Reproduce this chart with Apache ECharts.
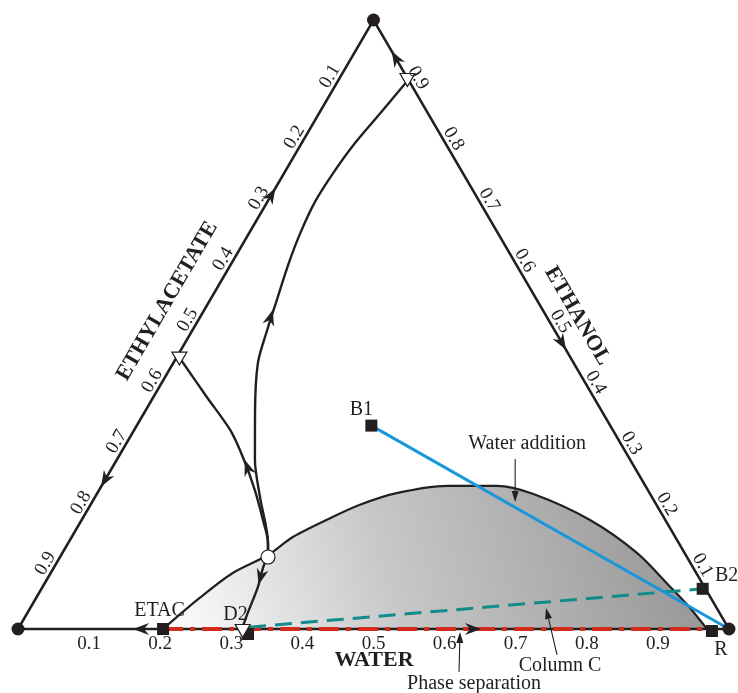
<!DOCTYPE html>
<html><head><meta charset="utf-8">
<script src="https://cdn.jsdelivr.net/npm/echarts/dist/echarts.min.js"></script>
<style>html,body{margin:0;padding:0;background:#fff}#c{width:738px;height:693px}</style>
</head><body><div id="c"></div>
<script>
// All compositions are [water, ethanol] mole fractions; ethyl acetate = 1 - water - ethanol
const tickValues = [0.1, 0.2, 0.3, 0.4, 0.5, 0.6, 0.7, 0.8, 0.9];
const tickLabels = ['0.1', '0.2', '0.3', '0.4', '0.5', '0.6', '0.7', '0.8', '0.9'];
const axisTitles = ['WATER', 'ETHANOL', 'ETHYLACETATE'];
const vertices = [[0, 0], [1, 0], [0, 1]];          // EtAc, water, EtOH
const binodal = [[0.204,0],[0.230,0.051],[0.256,0.092],[0.291,0.1215],[0.311,0.151],[0.348,0.182],
  [0.379,0.204],[0.421,0.223],[0.486,0.235],[0.556,0.235],[0.613,0.222],[0.715,0.179],[0.808,0.125],
  [0.883,0.069],[0.928,0.0345],[0.969,0]];
const boundaryUpper = [[0.2925,0.1182],[0.281,0.1412],[0.232,0.2167],[0.1945,0.2775],[0.156,0.3547],
  [0.119,0.4368],[0.105,0.491],[0.094,0.540],[0.081,0.598],[0.072,0.650],[0.067,0.701],[0.069,0.749],
  [0.075,0.798],[0.086,0.847],[0.098,0.902]];
const boundaryLeft = [[0.005,0.445],[0.075,0.381],[0.135,0.3268],[0.175,0.2824],[0.219,0.2282],
  [0.255,0.179],[0.281,0.1412],[0.2925,0.1182]];
const boundaryLower = [[0.2925,0.1182],[0.294,0.102],[0.303,0.069],[0.310,0.026],[0.315,0]];
const binaryAzeotropes = [[0.097,0.9015],[0.005,0.444],[0.316,0]];
const ternaryAzeotrope = [[0.2925,0.1182]];
const productNames = ['B1', 'B2', 'R', 'ETAC', 'D2'];
const productPoints = [[0.33,0.334],[0.93,0.066],[0.976,0],[0.204,0],[0.3235,0]];
const waterAddition = [[0.33,0.334],[1,0]];
const columnC = [[0.3235,0.003],[0.93,0.066]];
const phaseSeparation = [[0.204,0],[0.976,0]];
// flow arrows: [from, to] along edges and boundaries
const flowArrows = [
  [[0,0.69],[0,0.735]], [[0,0.27],[0,0.22]], [[0.19,0],[0.156,0]], [[0.625,0],[0.655,0]],
  [[0.08,0.92],[0.045,0.955]], [[0.51,0.49],[0.55,0.45]],
  [[0.105,0.488],[0.0938,0.5353]], [[0.2068,0.2447],[0.1736,0.2857]], [[0.294,0.102],[0.303,0.069]]
];
const annotationNames = ['Water addition', 'Column C', 'Phase separation'];
const annotationTips = [[0.595,0.2085],[0.7254,0.0345],[0.6217,0]];

// ---- styling ----
const INK = '#231f20';
const SERIF = '"Liberation Serif", "Times New Roman", serif';
const productLabelOffsets = [[-10,-16],[24,-13.5],[9,21],[-3.5,-18.5],[-12.5,-14.5]];
const productSymbolOffsets = [[0,0],[0,0],[0,2],[0,0],[0,5]];
const azeoSymbolOffsets = [[0,0],[0,0],[0,2]];
const annTail = [[0,-43],[11,47],[-1,43]];
const annTip = [[0,0],[0,0],[0,3]];
const annText = [[12,-58],[14,58],[14,55]];
const titleOffsets = [[0.5,31],[26,-8.5],[-28.5,-23.5]];

const T = p => [p[0] + p[1] / 2, p[1]];

function edgeAngle(api, a, b) {
  const p = api.coord(T(a)), q = api.coord(T(b));
  return Math.atan2(p[1] - q[1], q[0] - p[0]);
}
const leftRot = api => edgeAngle(api, vertices[0], vertices[2]);
const rightRot = api => edgeAngle(api, vertices[2], vertices[1]);

function textSeries(points, texts, offsets, rot, size, weight, z) {
  return {
    type: 'custom', silent: true, z: z, clip: false,
    data: points.map(T), encode: { x: 0, y: 1 },
    renderItem: (params, api) => {
      const i = params.dataIndex;
      const p = api.coord([api.value(0), api.value(1)]);
      const off = Array.isArray(offsets[0]) ? offsets[i] : offsets;
      const r = Array.isArray(rot) ? rot[i](api) : (typeof rot === 'function' ? rot(api) : 0);
      return { type: 'text', x: p[0] + off[0], y: p[1] + off[1], rotation: r,
        style: { text: texts[i], fontSize: size, fontFamily: SERIF, fontWeight: weight,
          fill: INK, align: 'center', verticalAlign: 'middle' } };
    }
  };
}

const chart = echarts.init(document.getElementById('c'));
const lineBase = { type: 'line', symbol: 'none', silent: true, clip: false, animation: false };

const option = {
  animation: false,
  grid: { left: 18, right: 9, top: 20, bottom: 64, containLabel: false },
  xAxis: { type: 'value', min: 0, max: 1, interval: 0.1,
    axisLine: { show: false }, axisTick: { show: false }, splitLine: { show: false },
    axisLabel: { margin: 6, fontSize: 19, fontFamily: SERIF, color: INK,
      formatter: v => { const i = tickValues.findIndex(t => Math.abs(t - v) < 1e-6); return i >= 0 ? tickLabels[i] : ''; } } },
  yAxis: { type: 'value', min: 0, max: 1, show: false },
  series: [
    Object.assign({}, lineBase, { data: binodal.map(T), smooth: 0.3, z: 1,
      lineStyle: { color: INK, width: 2.2 },
      areaStyle: { opacity: 1, color: { type: 'linear', x: 0, y: 1, x2: 0.9, y2: 0,
        colorStops: [{ offset: 0, color: '#ffffff' }, { offset: 0.45, color: '#c8c8c8' }, { offset: 1, color: '#9a9a9a' }] } } }),
    Object.assign({}, lineBase, { data: [vertices[0], vertices[1], vertices[2], vertices[0]].map(T), z: 2,
      lineStyle: { color: INK, width: 2.5, join: 'miter' } }),
    Object.assign({}, lineBase, { data: phaseSeparation.map(T), z: 3,
      lineStyle: { color: '#d52b1e', width: 4, type: [20, 7, 5, 7] } }),
    Object.assign({}, lineBase, { data: columnC.map(T), z: 3,
      lineStyle: { color: '#128b8b', width: 3, type: [17, 9] } }),
    Object.assign({}, lineBase, { data: waterAddition.map(T), z: 4,
      lineStyle: { color: '#1a96da', width: 3 } }),
    Object.assign({}, lineBase, { data: boundaryUpper.map(T), smooth: 0.3, z: 4, lineStyle: { color: INK, width: 2.4 } }),
    Object.assign({}, lineBase, { data: boundaryLeft.map(T), smooth: 0.3, z: 4, lineStyle: { color: INK, width: 2.4 } }),
    Object.assign({}, lineBase, { data: boundaryLower.map(T), smooth: 0.3, z: 4, lineStyle: { color: INK, width: 2.4 } }),
    { type: 'custom', silent: true, z: 5, clip: false,
      data: flowArrows.map(a => T(a[0]).concat(T(a[1]))), encode: { x: [0, 2], y: [1, 3] },
      renderItem: (params, api) => {
        const a = api.coord([api.value(0), api.value(1)]);
        const b = api.coord([api.value(2), api.value(3)]);
        const c = [(a[0] + b[0]) / 2, (a[1] + b[1]) / 2];
        let ux = b[0] - a[0], uy = b[1] - a[1];
        const l = Math.hypot(ux, uy); ux /= l; uy /= l;
        const nx = -uy, ny = ux, L = 16, W = 6;
        return { type: 'polygon', shape: { points: [
          [c[0] + ux * L / 2, c[1] + uy * L / 2],
          [c[0] - ux * L / 2 + nx * W, c[1] - uy * L / 2 + ny * W],
          [c[0] - ux * (L / 2 - 5), c[1] - uy * (L / 2 - 5)],
          [c[0] - ux * L / 2 - nx * W, c[1] - uy * L / 2 - ny * W]] },
          style: { fill: INK } };
      } },
    { type: 'scatter', silent: true, z: 6, clip: false, data: vertices.map(T),
      symbol: 'circle', symbolSize: 13, itemStyle: { color: INK, opacity: 1 } },
    { type: 'scatter', silent: true, z: 6, clip: false,
      data: productPoints.map((p, i) => ({ value: T(p), symbolOffset: productSymbolOffsets[i] })),
      symbol: 'rect', symbolSize: 12, itemStyle: { color: INK, opacity: 1 } },
    { type: 'scatter', silent: true, z: 7, clip: false,
      data: binaryAzeotropes.map((p, i) => ({ value: T(p), symbolOffset: azeoSymbolOffsets[i] })),
      symbol: 'triangle', symbolRotate: 180, symbolSize: [15, 13],
      itemStyle: { color: '#ffffff', borderColor: INK, borderWidth: 1.2, opacity: 1 } },
    { type: 'scatter', silent: true, z: 7, clip: false, data: ternaryAzeotrope.map(T),
      symbol: 'circle', symbolSize: 14, itemStyle: { color: '#ffffff', borderColor: INK, borderWidth: 1.2, opacity: 1 } },
    textSeries(tickValues.map(a => [0, 1 - a]), tickLabels, [-8, -4.5], leftRot, 19, 'normal', 8),
    textSeries(tickValues.map(e => [1 - e, e]), tickLabels, [9, -3], rightRot, 19, 'normal', 8),
    textSeries([[0.5, 0], [0.5, 0.5], [0, 0.5]], axisTitles, titleOffsets,
      [() => 0, rightRot, leftRot], 22, 'bold', 8),
    textSeries(productPoints, productNames, productLabelOffsets, 0, 20, 'normal', 8),
    { type: 'custom', silent: true, z: 8, clip: false,
      data: annotationTips.map(T), encode: { x: 0, y: 1 },
      renderItem: (params, api) => {
        const i = params.dataIndex;
        const p = api.coord([api.value(0), api.value(1)]);
        const tip = [p[0] + annTip[i][0], p[1] + annTip[i][1]];
        const tail = [p[0] + annTail[i][0], p[1] + annTail[i][1]];
        let ux = tip[0] - tail[0], uy = tip[1] - tail[1];
        const l = Math.hypot(ux, uy); ux /= l; uy /= l;
        const nx = -uy, ny = ux, H = 11, W = 3.5;
        const base = [tip[0] - ux * H, tip[1] - uy * H];
        return { type: 'group', children: [
          { type: 'line', shape: { x1: tail[0], y1: tail[1], x2: base[0], y2: base[1] },
            style: { stroke: INK, lineWidth: 1.1 } },
          { type: 'polygon', shape: { points: [tip, [base[0] + nx * W, base[1] + ny * W], [base[0] - nx * W, base[1] - ny * W]] },
            style: { fill: INK } },
          { type: 'text', x: p[0] + annText[i][0], y: p[1] + annText[i][1],
            style: { text: annotationNames[i], fontSize: 20, fontFamily: SERIF, fill: INK,
              align: 'center', verticalAlign: 'middle' } }
        ] };
      } }
  ]
};
chart.setOption(option);
</script></body></html>
